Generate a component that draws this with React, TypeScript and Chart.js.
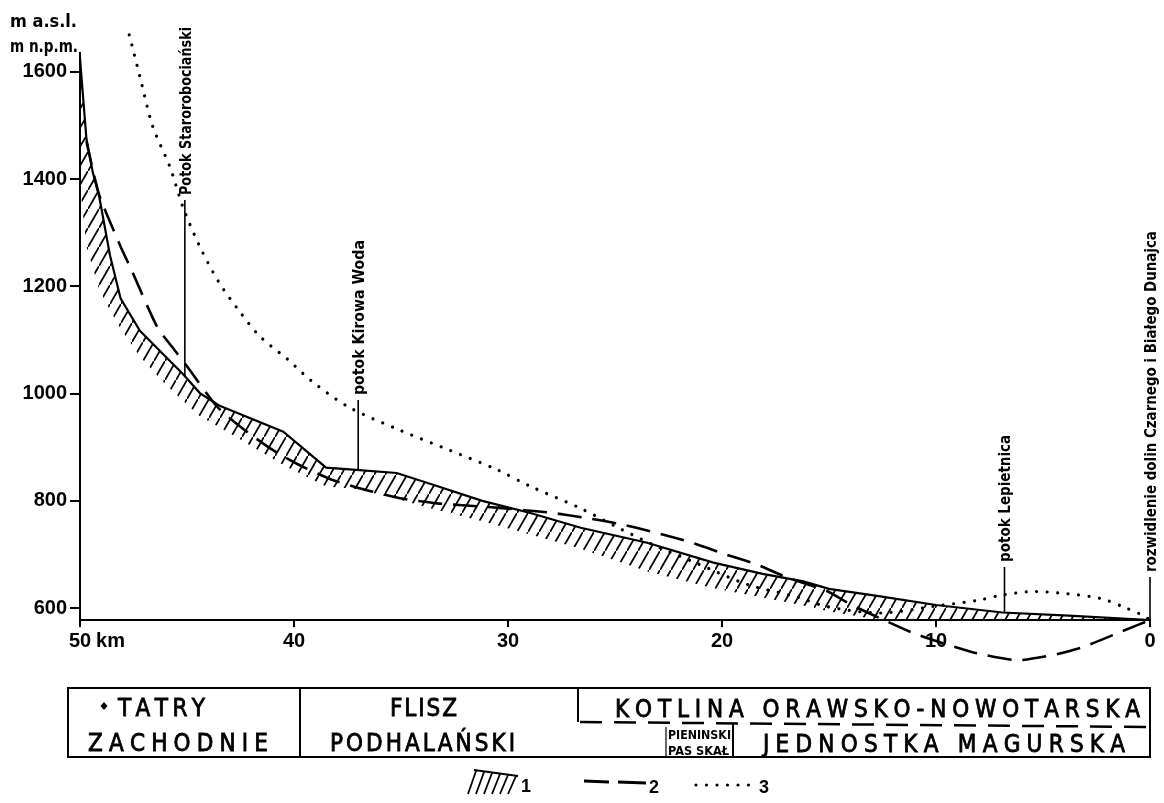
import React, { useEffect, useRef } from "react";
import { Chart, registerables } from "chart.js";

Chart.register(...registerables);

// ---------- DATA ----------
// km from the confluence (0) up to 50 km, elevation in m a.s.l.
const profileKm = [50, 49.7, 49.4, 49.1, 48.6, 48.1, 47.2, 46.1, 45.2, 44.4, 43.5, 40.5, 38.5, 37.1, 35.2, 33.5, 31.2, 29.0, 26.6, 23.5, 20.4, 18.1, 16.2, 15.0, 12.6, 10.0, 6.9, 3.8, 0];
const profileTop = [1625, 1475, 1412, 1367, 1258, 1177, 1117, 1073, 1037, 1001, 978, 929, 862, 858, 852, 830, 800, 778, 750, 722, 685, 664, 650, 636, 622, 606, 592, 586, 578];
const profileBase = [1390, 1274, 1234, 1194, 1156, 1121, 1069, 1021, 987, 958, 938, 867, 827, 822, 804, 785, 762, 738, 711, 669, 637, 620, 605, 594, 578, 578, 578, 578, 578];

const dashKm = [49.7, 49.1, 48.1, 47.6, 46.4, 45.5, 45.0, 43.6, 42.4, 41.0, 39.7, 38.2, 36.6, 34.9, 33.2, 31.4, 30.4, 28.0, 26.5, 24.9, 23.2, 21.4, 19.8, 18.4, 17.0, 15.1, 13.9, 12.6, 10.9, 8.3, 6.2, 4.5, 3.1, 1.3, 0];
const dashVal = [1470, 1370, 1274, 1231, 1125, 1077, 1051, 976, 935, 895, 866, 839, 820, 804, 795, 790, 787, 778, 769, 758, 742, 722, 700, 682, 658, 632, 605, 581, 551, 518, 503, 513, 528, 557, 578];

const dotKm = [47.7, 47.2, 46.6, 45.8, 45.2, 44.4, 43.5, 42.5, 41.6, 40.3, 39.1, 37.4, 35.0, 32.7, 30.5, 29.0, 26.6, 24.8, 23.2, 21.2, 18.8, 16.5, 15.1, 12.6, 10.0, 8.0, 7.0, 5.5, 3.9, 2.3, 1.1, 0.3, 0];
const dotVal = [1669, 1591, 1498, 1423, 1349, 1274, 1207, 1151, 1107, 1064, 1021, 974, 931, 894, 858, 828, 786, 749, 718, 684, 644, 621, 603, 591, 604, 615, 624, 631, 627, 618, 600, 586, 578];

const yTickStep = 200;
const xTickStep = 10;

const riverNames = ["Potok Starorobociański", "potok Kirowa Woda", "potok Lepietnica", "rozwidlenie dolin Czarnego i Białego Dunajca"];
const riverKm = [45.1, 37.0, 6.8, 0];
const riverLabelElev = [1361, 988, 677, 658];

const tableTop = ["TATRY", "FLISZ", "KOTLINA ORAWSKO-NOWOTARSKA"];
const tableBottom = ["ZACHODNIE", "PODHALAŃSKI", "JEDNOSTKA MAGURSKA"];
const tableSmall = ["PIENINSKI", "PAS SKAŁ"];
const legendLabels = ["1", "2", "3"];
const axisTitles = ["m a.s.l.", "m n.p.m."];

// ---------- helpers ----------
function interp(kms: number[], vals: number[], k: number) {
  for (let i = 0; i < kms.length - 1; i++) {
    const a = kms[i], b = kms[i + 1];
    if ((k <= a && k >= b) || (k >= a && k <= b)) {
      const t = a === b ? 0 : (k - a) / (b - a);
      return vals[i] + t * (vals[i + 1] - vals[i]);
    }
  }
  return vals[vals.length - 1];
}

function pts(kms: number[], vals: number[]) {
  return kms.map((k, i) => ({ x: k, y: vals[i] }));
}

function drawSpaced(ctx: CanvasRenderingContext2D, text: string, x0: number, x1: number, y: number) {
  const chars = Array.from(text);
  const ws = chars.map((c) => ctx.measureText(c).width);
  const tot = ws.reduce((a, b) => a + b, 0);
  const gap = chars.length > 1 ? (x1 - x0 - tot) / (chars.length - 1) : 0;
  let x = x0;
  ctx.textAlign = "left";
  chars.forEach((c, i) => {
    ctx.fillText(c, x, y);
    ctx.strokeText(c, x, y);
    x += ws[i] + gap;
  });
}

function fitText(ctx: CanvasRenderingContext2D, text: string, x: number, y: number, width: number) {
  const w = ctx.measureText(text).width;
  ctx.save();
  ctx.translate(x, y);
  ctx.scale(width / w, 1);
  ctx.textAlign = "left";
  ctx.fillText(text, 0, 0);
  ctx.restore();
}

const NARROW = "'DejaVu Sans Condensed', 'Liberation Sans Narrow', 'DejaVu Sans', sans-serif";
const SANS = "'Liberation Sans', Arial, sans-serif";

const extrasPlugin = {
  id: "extras",
  afterDraw(chart: any) {
    const ctx: CanvasRenderingContext2D = chart.ctx;
    const xs = chart.scales.x;
    const ys = chart.scales.y;
    const area = chart.chartArea;
    ctx.save();
    ctx.fillStyle = "#000";
    ctx.strokeStyle = "#000";

    // "km" after 50
    ctx.font = `bold 20px ${SANS}`;
    ctx.textBaseline = "top";
    const x50 = xs.getPixelForValue(50);
    const w50 = ctx.measureText("50").width;
    ctx.textAlign = "left";
    ctx.fillText("km", x50 + w50 / 2 + 5, area.bottom + 11);

    // axis titles
    ctx.font = `bold 18px ${NARROW}`;
    ctx.textBaseline = "alphabetic";
    fitText(ctx, axisTitles[0], 10, 27, 67);
    fitText(ctx, axisTitles[1], 10, 52, 68);

    // river annotations
    const lens = [168, 155, 127, 341];
    ctx.font = `bold 15px ${NARROW}`;
    riverNames.forEach((name, i) => {
      const px = xs.getPixelForValue(riverKm[i]);
      const yb = ys.getPixelForValue(interp(profileKm, profileTop, riverKm[i]));
      const yt = ys.getPixelForValue(riverLabelElev[i]);
      ctx.lineWidth = 1.6;
      ctx.beginPath();
      ctx.moveTo(px, yb);
      ctx.lineTo(px, yt);
      ctx.stroke();
      const w = ctx.measureText(name).width;
      ctx.save();
      ctx.translate(px + 2, yt - 5);
      ctx.rotate(-Math.PI / 2);
      ctx.scale(lens[i] / w, 1);
      ctx.textBaseline = "middle";
      ctx.textAlign = "left";
      ctx.fillText(name, 0, 0);
      ctx.restore();
    });

    // ----- table -----
    const tL = 68, tR = 1150, tT = 688, tB = 757;
    ctx.lineWidth = 2;
    ctx.strokeRect(tL, tT, tR - tL, tB - tT);
    ctx.beginPath();
    ctx.moveTo(300, tT); ctx.lineTo(300, tB);
    ctx.moveTo(578, tT); ctx.lineTo(578, 722);
    ctx.moveTo(733, 724); ctx.lineTo(733, tB);
    ctx.stroke();
    ctx.lineWidth = 1.2;
    ctx.beginPath();
    ctx.moveTo(666, 727); ctx.lineTo(666, 756);
    ctx.stroke();
    ctx.lineWidth = 2.5;
    ctx.setLineDash([22, 12]);
    ctx.beginPath();
    ctx.moveTo(580, 722); ctx.lineTo(1150, 727);
    ctx.stroke();
    ctx.setLineDash([]);

    // diamond
    ctx.beginPath();
    ctx.moveTo(104, 702); ctx.lineTo(107.5, 706); ctx.lineTo(104, 710); ctx.lineTo(100.5, 706);
    ctx.closePath(); ctx.fill();

    ctx.font = `24px ${NARROW}`;
    ctx.textBaseline = "alphabetic";
    ctx.lineWidth = 0.8;
    drawSpaced(ctx, tableTop[0], 118, 205, 716);
    drawSpaced(ctx, tableTop[1], 390, 457, 716);
    drawSpaced(ctx, tableTop[2], 615, 1140, 717);
    drawSpaced(ctx, tableBottom[0], 88, 268, 751);
    drawSpaced(ctx, tableBottom[1], 330, 515, 751);
    drawSpaced(ctx, tableBottom[2], 763, 1125, 752);

    ctx.font = `bold 12px ${NARROW}`;
    fitText(ctx, tableSmall[0], 668, 739, 63);
    fitText(ctx, tableSmall[1], 668, 755, 61);

    // ----- legend -----
    ctx.lineWidth = 1.8;
    ctx.beginPath();
    ctx.moveTo(474, 770); ctx.lineTo(518, 776);
    for (let k = 0; k < 6; k++) {
      const bx = 468 + k * 8;
      ctx.moveTo(bx, 794); ctx.lineTo(bx + 8, 771 + k);
    }
    ctx.stroke();
    ctx.font = `bold 18px ${SANS}`;
    ctx.textBaseline = "alphabetic";
    ctx.textAlign = "left";
    ctx.fillText(legendLabels[0], 521, 792);
    ctx.lineWidth = 3;
    ctx.beginPath();
    ctx.moveTo(584, 781); ctx.lineTo(609, 782);
    ctx.moveTo(618, 782); ctx.lineTo(646, 783);
    ctx.stroke();
    ctx.fillText(legendLabels[1], 649, 793);
    for (let k = 0; k < 6; k++) {
      ctx.beginPath();
      ctx.arc(696 + k * 10.5, 785, 1.6, 0, Math.PI * 2);
      ctx.fill();
    }
    ctx.fillText(legendLabels[2], 759, 793);

    ctx.restore();
  },
};

export default function App() {
  const ref = useRef<HTMLCanvasElement>(null);
  useEffect(() => {
    const canvas = ref.current!;
    const pc = document.createElement("canvas");
    pc.width = 11;
    pc.height = 19;
    const p = pc.getContext("2d")!;
    p.strokeStyle = "#000";
    p.lineWidth = 1.8;
    p.beginPath();
    p.moveTo(-1, 19 + 19 / 11);
    p.lineTo(12, -19 / 11);
    p.stroke();
    const pattern = canvas.getContext("2d")!.createPattern(pc, "repeat")!;

    const chart = new Chart(canvas, {
      type: "line",
      data: {
        datasets: [
          {
            label: "1",
            data: pts(profileKm, profileTop),
            borderColor: "#000",
            borderWidth: 2.2,
            pointRadius: 0,
            fill: "+1",
            backgroundColor: pattern as any,
            tension: 0,
          },
          {
            label: "base",
            data: pts(profileKm, profileBase),
            borderColor: "rgba(0,0,0,0)",
            borderWidth: 1,
            pointRadius: 0,
            fill: false,
            tension: 0,
          },
          {
            label: "2",
            data: pts(dashKm, dashVal),
            borderColor: "#000",
            borderWidth: 2.6,
            borderDash: [24, 11],
            pointRadius: 0,
            fill: false,
            tension: 0.2,
            clip: false as any,
          },
          {
            label: "3",
            data: pts(dotKm, dotVal),
            borderColor: "#000",
            borderWidth: 3.2,
            borderDash: [0.01, 10.5],
            borderCapStyle: "round",
            pointRadius: 0,
            fill: false,
            tension: 0.3,
            clip: false as any,
          },
        ],
      },
      options: {
        animation: false,
        responsive: false,
        devicePixelRatio: 1,
        layout: { padding: { top: 53, right: 14, bottom: 143, left: 0 } },
        plugins: { legend: { display: false }, tooltip: { enabled: false } },
        scales: {
          x: {
            type: "linear",
            min: 0,
            max: 50,
            reverse: true,
            afterFit: (s: any) => { s.height = 40; },
            ticks: {
              stepSize: xTickStep,
              color: "#000",
              font: { size: 20, weight: "bold", family: SANS },
              padding: 2,
              maxRotation: 0,
              callback: (v: any) => String(v),
            },
            grid: { display: true, drawOnChartArea: false, drawTicks: true, tickLength: 7, color: "#000", lineWidth: 2 },
            border: { display: true, color: "#000", width: 2 },
          },
          y: {
            type: "linear",
            min: 578,
            max: 1635,
            afterFit: (s: any) => { s.width = 80; },
            ticks: {
              stepSize: yTickStep,
              includeBounds: false,
              color: "#000",
              font: { size: 20, weight: "bold", family: SANS },
              padding: 3,
              callback: (v: any) => String(v),
            },
            grid: { display: true, drawOnChartArea: false, drawTicks: true, tickLength: 10, color: "#000", lineWidth: 2 },
            border: { display: true, color: "#000", width: 2 },
          },
        },
      },
      plugins: [extrasPlugin],
    } as any);
    return () => chart.destroy();
  }, []);
  return (
    <canvas
      ref={ref}
      width={1164}
      height={803}
      style={{ position: "absolute", left: 0, top: 0, width: 1164, height: 803 }}
    />
  );
}
